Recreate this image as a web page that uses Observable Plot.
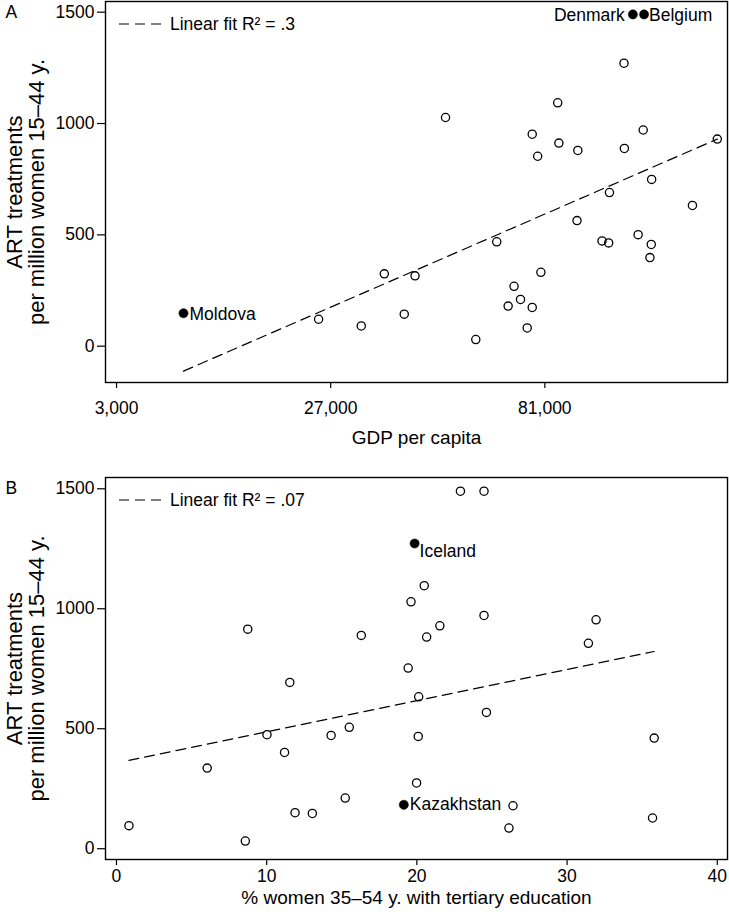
<!DOCTYPE html>
<html>
<head>
<meta charset="utf-8">
<script src="https://cdn.jsdelivr.net/npm/d3@7"></script>
<script src="https://cdn.jsdelivr.net/npm/@observablehq/plot@0.6"></script>
<style>
  html, body { margin: 0; padding: 0; background: #fff; }
  #chart svg { display: block; }
</style>
</head>
<body>
<div id="chart"></div>
<script>
// ---------- Panel A: GDP per capita vs ART treatments ----------
const gdpA = [113000, 117500, 109500, 85300, 51900, 117150, 76900, 149400, 85700, 92300,
              109650, 78650, 120600, 103900, 138100, 92000, 66000, 101100, 103600, 115100,
              120450, 119900, 37500, 44400, 79700, 71200, 73200, 69400, 76900, 41900,
              7640, 24900, 32750, 75300, 60000];
const artA = [1490, 1490, 1271, 1093, 1027, 971, 952, 930, 912, 879,
              888, 853, 749, 690, 632, 564, 469, 473, 464, 501,
              457, 398, 325, 316, 332, 269, 210, 180, 174, 144,
              148, 121, 91, 82, 30];
const namesA = ["Denmark", "Belgium", "", "", "", "", "", "", "", "",
                "", "", "", "", "", "", "", "", "", "",
                "", "", "", "", "", "", "", "", "", "",
                "Moldova", "", "", "", ""];
const fitGdpA = [7640, 149400];
const fitArtA = [-112, 930];
const xTicksA = [3000, 27000, 81000];

// ---------- Panel B: tertiary education vs ART treatments ----------
const eduB = [22.9, 24.47, 19.85, 20.49, 19.61, 24.47, 31.93, 8.74, 21.53, 16.3,
              20.65, 31.42, 19.42, 11.54, 20.12, 24.63, 15.5, 10.02, 14.29, 20.09,
              35.8, 11.19, 6.04, 19.98, 15.23, 19.13, 26.4, 11.89, 13.04, 35.69,
              0.83, 26.13, 8.58];
const artB = [1490, 1490, 1272, 1096, 1029, 972, 954, 915, 929, 889,
              882, 856, 753, 693, 633, 568, 506, 475, 472, 468,
              461, 401, 336, 274, 211, 183, 179, 150, 147, 128,
              96, 86, 32];
const namesB = ["", "", "Iceland", "", "", "", "", "", "", "",
                "", "", "", "", "", "", "", "", "", "",
                "", "", "", "", "", "Kazakhstan", "", "", "", "",
                "", "", ""];
const fitEduB = [0.83, 35.8];
const fitArtB = [368, 822];
const xTicksB = [0, 10, 20, 30, 40];

const yTicks = [0, 500, 1000, 1500];
const yTitle = "ART treatments\nper million women 15\u201344 y.";
const xTitleA = "GDP per capita";
const xTitleB = "% women 35\u201354 y. with tertiary education";
const legendA = "Linear fit R\u00B2 = .3";
const legendB = "Linear fit R\u00B2 = .07";

const FONT = "'Liberation Sans', Arial, Helvetica, sans-serif";

const ptsA = gdpA.map((g, i) => ({x: g, y: artA[i], name: namesA[i]}));
const ptsB = eduB.map((e, i) => ({x: e, y: artB[i], name: namesB[i]}));
const fitA = fitGdpA.map((g, i) => ({x: g, y: fitArtA[i]}));
const fitB = fitEduB.map((e, i) => ({x: e, y: fitArtB[i]}));

// label placement (styling, not data)
const labelSide = {
  Denmark: {textAnchor: "end", dx: -8, dy: 1},
  Belgium: {textAnchor: "start", dx: 5, dy: 1},
  Moldova: {textAnchor: "start", dx: 6, dy: 1},
  Iceland: {textAnchor: "start", dx: 5, dy: 8},
  Kazakhstan: {textAnchor: "start", dx: 6, dy: 0}
};

function panel({pts, fit, letter, xScale, xTicks, xFmt, yDomain, marginTop, marginBottom, xTitle, legend, tickPad, titleDy}) {
  const open = pts.filter(d => !d.name);
  const named = pts.filter(d => d.name);
  const labelMarks = named.map(d => Plot.text([d], {
    x: "x", y: "y", text: "name", fontSize: 17.5, lineAnchor: "middle",
    fill: "black", ...labelSide[d.name]
  }));
  const svg = Plot.plot({
    width: 729,
    height: 461,
    marginLeft: 105,
    marginRight: 2,
    marginTop,
    marginBottom,
    style: {fontFamily: FONT, fontSize: "17.5px", background: "white", color: "black", overflow: "visible"},
    x: {...xScale, label: null},
    y: {domain: yDomain, label: null},
    marks: [
      Plot.axisX({ticks: xTicks, tickFormat: xFmt, tickSize: 6, tickPadding: tickPad, label: null, fontSize: 17.5, strokeWidth: 1.2}),
      Plot.axisY({ticks: yTicks, tickFormat: d => String(d), tickSize: 8, tickPadding: 3, label: null, fontSize: 17.5, strokeWidth: 1.2}),
      Plot.line(fit, {x: "x", y: "y", stroke: "black", strokeWidth: 1.2, strokeDasharray: "10,6"}),
      Plot.dot(open, {x: "x", y: "y", r: 4.1, stroke: "black", strokeWidth: 1.3, fill: "none"}),
      Plot.dot(named, {x: "x", y: "y", r: 4.6, fill: "black", stroke: "black", strokeWidth: 0.5}),
      ...labelMarks,
      Plot.text([legend], {text: d => d, frameAnchor: "top-left", dx: 64.5, dy: 23, textAnchor: "start", lineAnchor: "middle", fontSize: 17.5}),
      Plot.text([xTitle], {text: d => d, frameAnchor: "bottom", dy: titleDy, lineAnchor: "middle", fontSize: 19}),
      Plot.text([yTitle], {text: d => d, frameAnchor: "left", dx: -80, rotate: -90, lineAnchor: "middle", textAnchor: "middle", lineHeight: 1.0, fontSize: 22}),
      Plot.text([letter], {text: d => d, frameAnchor: "top-left", dx: -100, dy: 4, textAnchor: "start", lineAnchor: "top", fontSize: 17.5}),
      Plot.frame({stroke: "black", strokeWidth: 1.4})
    ]
  });
  // legend key: short dashed line
  d3.select(svg).append("line")
    .attr("x1", 119).attr("x2", 161)
    .attr("y1", marginTop + 23).attr("y2", marginTop + 23)
    .attr("stroke", "black").attr("stroke-width", 1.2)
    .attr("stroke-dasharray", "10,6");
  return svg;
}

const chart = document.getElementById("chart");
chart.appendChild(panel({
  pts: ptsA, fit: fitA, letter: "A",
  xScale: {type: "pow", exponent: 0.438, domain: [2460, 154200]},
  xTicks: xTicksA, xFmt: d3.format(","),
  yDomain: [-163, 1548], marginTop: 1, marginBottom: 79,
  xTitle: xTitleA, legend: legendA, tickPad: 13, titleDy: 55
}));
chart.appendChild(panel({
  pts: ptsB, fit: fitB, letter: "B",
  xScale: {type: "linear", domain: [-0.73, 40.68]},
  xTicks: xTicksB, xFmt: d => String(d),
  yDomain: [-45, 1547], marginTop: 16, marginBottom: 63,
  xTitle: xTitleB, legend: legendB, tickPad: 4, titleDy: 38
}));
</script>
</body>
</html>
